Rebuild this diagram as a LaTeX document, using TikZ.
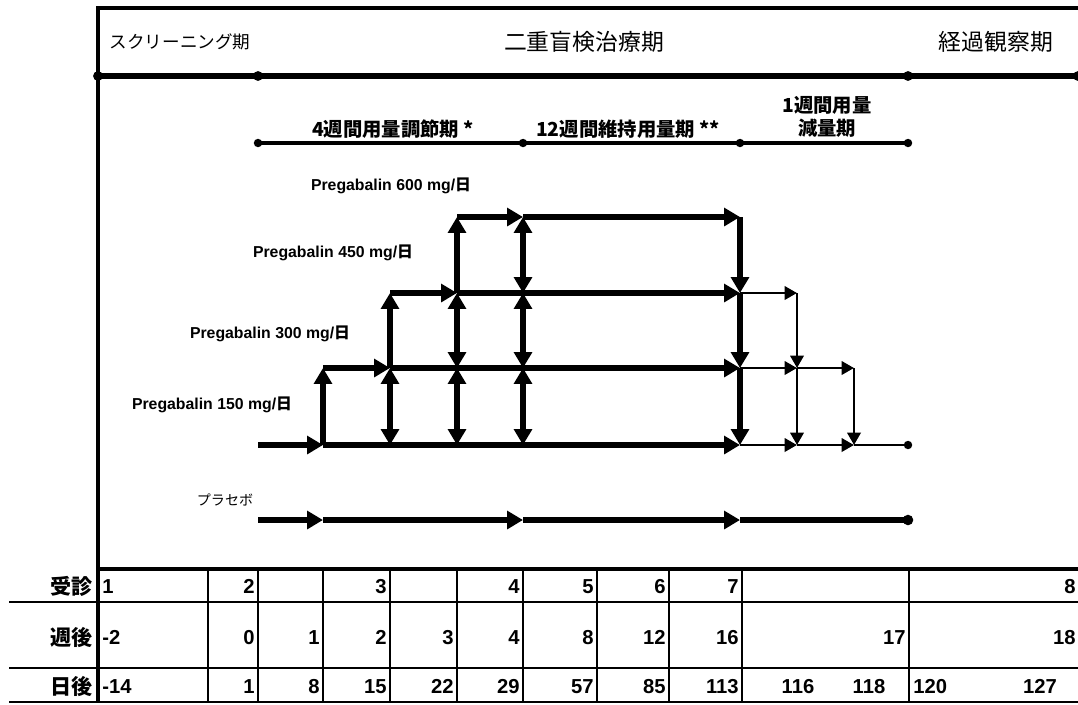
\documentclass[tikz,border=0pt]{standalone}
\usepackage{fontspec}
\setmainfont{Liberation Sans}
\newfontfamily\jpfont{Noto Sans CJK JP}
\usetikzlibrary{calc, arrows.meta, positioning}

\tikzset{
	bigtip/.tip={Triangle[length=9pt,width=10pt]},
	smalltip/.tip={Triangle[length=7pt,width=7.5pt]},
	frameline/.style={line width=2.6pt},
	headline/.style={line width=3.4pt},
	phaseline/.style={line width=2pt},
	doseline/.style={line width=3.3pt},
	tapeline/.style={line width=1.6pt},
	gridline/.style={line width=1.2pt},
	jphead/.style={inner sep=1pt, font=\jpfont\fontsize{13}{15}\selectfont},
	jpphase/.style={inner sep=1pt, align=center, font=\jpfont\bfseries\fontsize{11}{13.5}\selectfont},
	rowlab/.style={inner sep=0pt, anchor=east, font=\jpfont\bfseries\fontsize{12}{14}\selectfont},
	numcell/.style={inner sep=0pt, font=\fontsize{11.5}{13}\selectfont\bfseries},
}

\begin{document}
\begin{tikzpicture}[x=0.02cm, y=-0.02cm]
	\newcommand{\mydoselabel}[1]{
		\fontsize{9}{11}\selectfont\bfseries Pregabalin #1 mg/{\jpfont\bfseries 日}
	}
	\useasboundingbox (0,0) rectangle (1078,704);
	%Outer frame
	\coordinate (fr0) at (98,8);
	\coordinate (fr1) at (1078,8);
	\coordinate (fr2) at (98,702);
	\draw[frameline] (fr1) -- (fr0) -- (fr2);
	%Header line with dots
	\foreach \i/\x in {0/98, 1/258, 2/908, 3/1078} {
		\coordinate (hd\i) at (\x,76);
	}
	\draw[headline] (hd0) -- (hd3);
	\foreach \i in {0,...,3} {
		\fill (hd\i) circle (2.8pt);
	}
	%Period names
	\node[jphead, font=\jpfont\fontsize{10}{12}\selectfont] (scrn) at (180,42) {スクリーニング期};
	\node[jphead] (dblind) at (584,42) {二重盲検治療期};
	\node[jphead] (follow) at (996,42) {経過観察期};
	%Phase line
	\foreach \i/\x in {1/258, 2/523, 3/740, 4/908} {
		\coordinate (ph\i) at (\x,143);
	}
	\draw[phaseline] (ph1) -- (ph4);
	\foreach \i in {1,...,4} {
		\fill (ph\i) circle (2.4pt);
	}
	\node[jpphase] (titr) at (393,129) {4週間用量調節期 *};
	\node[jpphase] (maint) at (628,129) {12週間維持用量期 **};
	\node[jpphase] (taper) at (827,117) {1週間用量\\減量期};
	%Grid points: columns (week) and dose levels
	\foreach \n/\x in {0/258, 1/323, 2/390, 3/457, 4/523, 16/740, a/797, b/854, e/908} {
		\foreach \l/\y in {1/445, 2/368, 3/293, 4/217, p/520} {
			\coordinate (c\n-\l) at (\x,\y);
		}
	}
	%Dose labels
	\node[inner sep=1pt] (lab600) at (391,186) {\mydoselabel{600}};
	\node[inner sep=1pt] (lab450) at (333,253) {\mydoselabel{450}};
	\node[inner sep=1pt] (lab300) at (270,334) {\mydoselabel{300}};
	\node[inner sep=1pt] (lab150) at (212,405) {\mydoselabel{150}};
	%Titration steps
	\draw[doseline, -{bigtip}] (c0-1) -- (c1-1);
	\draw[doseline, -{bigtip}] (c1-1) -- (c1-2);
	\draw[doseline, -{bigtip}] (c1-2) -- (c2-2);
	\draw[doseline, -{bigtip}] (c2-2) -- (c2-3);
	\draw[doseline, -{bigtip}] (c2-3) -- (c3-3);
	\draw[doseline, -{bigtip}] (c3-3) -- (c3-4);
	\draw[doseline, -{bigtip}] (c3-4) -- (c4-4);
	%Double arrows between levels
	\draw[doseline, {bigtip}-{bigtip}] (c2-1) -- (c2-2);
	\foreach \l/\m in {1/2, 2/3} {
		\draw[doseline, {bigtip}-{bigtip}] (c3-\l) -- (c3-\m);
	}
	\foreach \l/\m in {1/2, 2/3, 3/4} {
		\draw[doseline, {bigtip}-{bigtip}] (c4-\l) -- (c4-\m);
	}
	%Maintenance lines
	\draw[doseline, -{bigtip}] (c1-1) -- (c16-1);
	\draw[doseline, -{bigtip}] (c2-2) -- (c16-2);
	\draw[doseline, -{bigtip}] (c3-3) -- (c16-3);
	\draw[doseline, -{bigtip}] (c4-4) -- (c16-4);
	%Down at week 16
	\draw[doseline, -{bigtip}] (c16-4) -- (c16-3);
	\draw[doseline, -{bigtip}] (c16-3) -- (c16-2);
	\draw[doseline, -{bigtip}] (c16-2) -- (c16-1);
	%Taper
	\draw[tapeline, -{smalltip}] (c16-3) -- (ca-3);
	\draw[tapeline, -{smalltip}] (ca-3) -- (ca-2);
	\draw[tapeline, -{smalltip}] (ca-2) -- (ca-1);
	\draw[tapeline, -{smalltip}] (c16-2) -- (ca-2);
	\draw[tapeline, -{smalltip}] (ca-2) -- (cb-2);
	\draw[tapeline, -{smalltip}] (cb-2) -- (cb-1);
	\draw[tapeline, -{smalltip}] (c16-1) -- (ca-1);
	\draw[tapeline, -{smalltip}] (ca-1) -- (cb-1);
	\draw[tapeline] (cb-1) -- (ce-1);
	\fill (ce-1) circle (2.4pt);
	%Placebo
	\node[inner sep=1pt, font=\jpfont\fontsize{8}{10}\selectfont] (plc) at (225,500) {プラセボ};
	\draw[doseline, -{bigtip}] (c0-p) -- (c1-p);
	\draw[doseline, -{bigtip}] (c1-p) -- (c4-p);
	\draw[doseline, -{bigtip}] (c4-p) -- (c16-p);
	\draw[doseline] (c16-p) -- (ce-p);
	\fill (ce-p) circle (3pt);
	%Table lines
	\draw[frameline] (98,569) -- (1078,569);
	\foreach \y in {602,668,702} {
		\draw[gridline] (9,\y) -- (1078,\y);
	}
	\foreach \x in {208,258,323,390,457,523,597,669,742,909} {
		\draw[gridline] (\x,569) -- (\x,702);
	}
	%Row labels
	\node[rowlab] (rvisit) at (93,586) {受診};
	\node[rowlab] (rweek) at (93,637) {週後};
	\node[rowlab] (rday) at (93,686) {日後};
	%Visits
	\node[numcell, anchor=base west] (vis1) at (102,593) {1};
	\foreach \x/\t in {258/2, 390/3, 523/4, 597/5, 669/6, 742/7, 1079/8} {
		\node[numcell, anchor=base east] (vis\t) at (\x-3,593) {\t};
	}
	%Weeks
	\node[numcell, anchor=base west] (wk0) at (102,644) {-2};
	\foreach \x/\t [count=\i] in {258/0, 323/1, 390/2, 457/3, 523/4, 597/8, 669/12, 742/16, 909/17, 1079/18} {
		\node[numcell, anchor=base east] (wk\i) at (\x-3,644) {\t};
	}
	%Days
	\node[numcell, anchor=base west] (dy0) at (102,693) {-14};
	\foreach \x/\t [count=\i] in {258/1, 323/8, 390/15, 457/22, 523/29, 597/57, 669/85, 742/113} {
		\node[numcell, anchor=base east] (dy\i) at (\x-3,693) {\t};
	}
	\node[numcell, anchor=base] (dy116) at (798,693) {116};
	\node[numcell, anchor=base] (dy118) at (869,693) {118};
	\node[numcell, anchor=base west] (dy120) at (913,693) {120};
	\node[numcell, anchor=base] (dy127) at (1040,693) {127};
\end{tikzpicture}
\end{document}
